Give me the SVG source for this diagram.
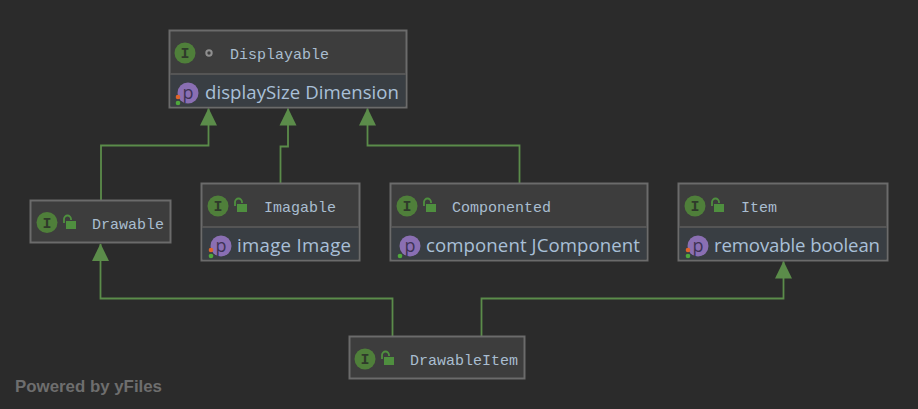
<svg xmlns="http://www.w3.org/2000/svg" width="918" height="409" viewBox="0 0 918 409">
<style>
.box{fill:#3d3d3d;stroke:#6b6b6b;stroke-width:2}
.body{fill:#393e43}
.div{stroke:#555;stroke-width:2;fill:none}
.title{font-family:"Liberation Mono",monospace;font-size:15px;fill:#a9bdd0}
.field{font-family:"Open Sans","Noto Sans",sans-serif;font-size:18.6px;fill:#a9c0d8}
.conn{fill:none;stroke:#5b8c4a;stroke-width:1.800}
.ilet{font-family:"Liberation Mono",monospace;font-weight:bold;font-size:15px;fill:#2f3a2b;text-anchor:middle}
.plet{font-family:"Open Sans",sans-serif;font-size:18px;fill:#3e3355;text-anchor:middle}
.wm{font-family:"Liberation Sans",Arial,sans-serif;font-weight:bold;font-size:16.85px;fill:#6e6e6e}
</style>
<defs>
<marker id="tri" viewBox="0 0 18 18" refX="17" refY="9" markerWidth="18" markerHeight="18" markerUnits="userSpaceOnUse" orient="auto"><path d="M17.500 9L0 0.500V17.500Z" fill="#5b8c4a"/></marker>
<g id="ic"><circle r="10.500" fill="#4f7f3a"/><text class="ilet" y="5">I</text></g>
<g id="lock"><path d="M-5 1v-4a3.500 3.500 0 0 1 7 0v1" fill="none" stroke="#4f8f3f" stroke-width="1.800"/><rect x="-3" y="-1" width="10" height="8" fill="#4f8f3f"/></g>
<g id="prop"><circle r="10.500" fill="#8a6fb3"/><text class="plet" y="5.500">p</text><circle cx="-10" cy="4" r="2.300" fill="#e0642a"/><circle cx="-10" cy="10" r="2.300" fill="#4fa83c"/></g>
<g id="prop2"><circle r="10.500" fill="#8a6fb3"/><text class="plet" y="5.500">p</text><circle cx="-10" cy="10" r="2.300" fill="#4fa83c"/></g>
</defs>
<rect width="918" height="409" fill="#2b2b2b"/>
<g id="connectors">
<path class="conn" marker-end="url(#tri)" d="M101 200V145.500H208.500V108.500"/>
<path class="conn" marker-end="url(#tri)" d="M280.500 183V146.500H288V108.500"/>
<path class="conn" marker-end="url(#tri)" d="M519.500 183V145.500H367.500V108.500"/>
<path class="conn" marker-end="url(#tri)" d="M392.500 336V298.500H100.500V244"/>
<path class="conn" marker-end="url(#tri)" d="M481.500 336V298.500H783.500V261.500"/>
</g>
<g id="node-displayable">
<rect class="box" x="169.500" y="30.500" width="237" height="77"/>
<rect class="body" x="170.500" y="74.500" width="235" height="32"/>
<path class="div" d="M170 74H406"/>
<use href="#ic" x="185" y="53"/>
<circle cx="209" cy="53" r="2.700" fill="none" stroke="#8f8f8f" stroke-width="2"/>
<text class="title" x="230" y="59">Displayable</text>
<use href="#prop" x="188" y="93"/>
<text class="field" x="205" y="99" textLength="194">displaySize Dimension</text>
</g>
<g id="node-drawable">
<rect class="box" x="30.500" y="200.500" width="140" height="42"/>
<use href="#ic" x="47" y="222.500"/>
<use href="#lock" transform="translate(69 222)"/>
<text class="title" x="92" y="229">Drawable</text>
</g>
<g id="node-imagable">
<rect class="box" x="201.500" y="183.500" width="158" height="77"/>
<rect class="body" x="202.500" y="227.500" width="156" height="32"/>
<path class="div" d="M202 227H359"/>
<use href="#ic" x="218" y="206"/>
<use href="#lock" transform="translate(240 205)"/>
<text class="title" x="264" y="212">Imagable</text>
<use href="#prop" x="221" y="246"/>
<text class="field" x="237" y="252" textLength="114">image Image</text>
</g>
<g id="node-componented">
<rect class="box" x="390.500" y="183.500" width="257" height="77"/>
<rect class="body" x="391.500" y="227.500" width="255" height="32"/>
<path class="div" d="M391 227H647"/>
<use href="#ic" x="407" y="206"/>
<use href="#lock" transform="translate(429 205)"/>
<text class="title" x="452" y="212">Componented</text>
<use href="#prop2" x="410" y="246"/>
<text class="field" x="426" y="252" textLength="214">component JComponent</text>
</g>
<g id="node-item">
<rect class="box" x="678.500" y="183.500" width="209" height="77"/>
<rect class="body" x="679.500" y="227.500" width="207" height="32"/>
<path class="div" d="M679 227H887"/>
<use href="#ic" x="695" y="206"/>
<use href="#lock" transform="translate(717 205)"/>
<text class="title" x="741" y="212">Item</text>
<use href="#prop" x="698" y="246"/>
<text class="field" x="714" y="252" textLength="166">removable boolean</text>
</g>
<g id="node-drawableitem">
<rect class="box" x="349.500" y="336.500" width="175" height="42"/>
<use href="#ic" x="365" y="359"/>
<use href="#lock" transform="translate(387 358)"/>
<text class="title" x="410" y="365">DrawableItem</text>
</g>
<text class="wm" x="15" y="392">Powered by yFiles</text>
</svg>
